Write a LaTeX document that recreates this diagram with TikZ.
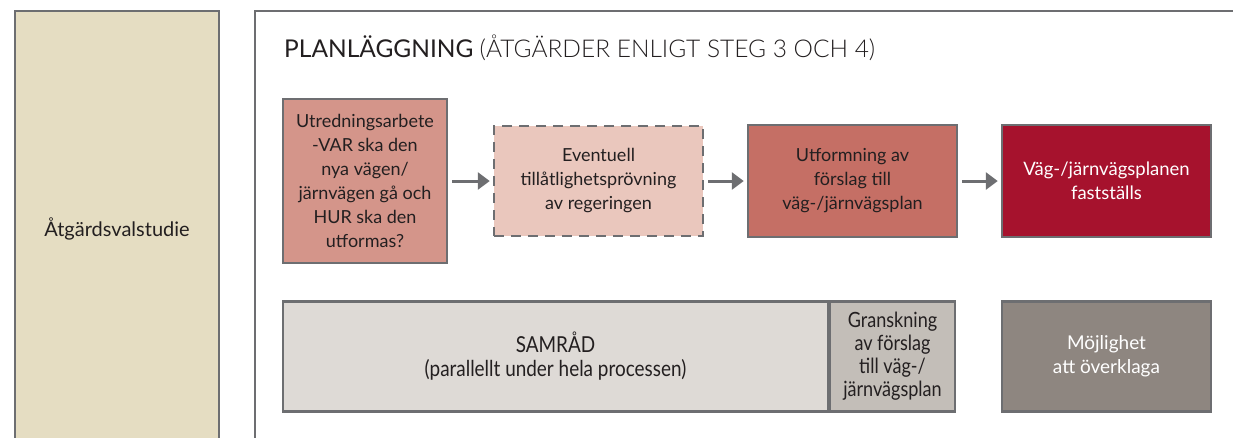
\documentclass[tikz,border=0pt]{standalone}
\usepackage{fontspec}
\setmainfont{Lato}
\newfontfamily\narrowfont[FakeStretch=0.86]{Lato}
\newfontfamily\lightfont{Lato Light}
\usetikzlibrary{arrows.meta}

\definecolor{edgegray}{HTML}{6D6E71}
\definecolor{textdark}{HTML}{231F20}
\definecolor{beige}{HTML}{E5DDC2}
\definecolor{rose}{HTML}{D4958A}
\definecolor{palerose}{HTML}{EAC7BD}
\definecolor{brick}{HTML}{C56F65}
\definecolor{wine}{HTML}{A6122D}
\definecolor{lightstone}{HTML}{DEDAD6}
\definecolor{stone}{HTML}{C3BEB8}
\definecolor{taupe}{HTML}{8E8680}

\begin{document}
\begin{tikzpicture}[x=1pt, y=-1pt,
        planbox/.style={draw=edgegray, line width=2.5pt, align=center, inner sep=0pt,
                text=textdark, font=\fontsize{18}{24}\selectfont},
        optbox/.style={planbox, dash pattern=on 10pt off 7pt},
        lowbox/.style={planbox, minimum height=110pt},
        flowarrow/.style={edgegray, line width=3pt, -{Triangle[length=12pt,width=17pt]},
                shorten <=4pt, shorten >=3pt}]
        \useasboundingbox (0,0) rectangle (1233,437);

        % Left column
        \fill [beige] (15,445) -- (15,11) -- (219,11) -- (219,445);
        \draw [edgegray, line width=2.5pt] (15,445) -- (15,11) -- (219,11) -- (219,445);
        \node [text=textdark, font=\fontsize{20}{24}\selectfont] (avs) at (117,229) {Åtgärdsvalstudie};

        % Planning frame and title
        \draw [edgegray, line width=2pt] (255,445) -- (255,11) -- (1240,11);
        \node [anchor=base west, inner sep=0pt, text=textdark, font=\fontsize{24.5}{28}\selectfont]
                (title) at (284,57) {PLANLÄGGNING {\lightfont(ÅTGÄRDER ENLIGT STEG 3 OCH 4)}};

        % Steps
        \node [planbox, fill=rose, minimum width=164pt, minimum height=164pt] (utr) at (365,181)
                {Utredningsarbete\\-VAR ska den\\nya vägen/\\järnvägen gå och\\HUR ska den\\utformas?};
        \node [optbox, fill=palerose, minimum width=209pt, minimum height=110pt] (till) at (598.5,181)
                {Eventuell\\tillåtlighetsprövning\\av regeringen};
        \node [planbox, fill=brick, minimum width=209pt, minimum height=112pt] (utf) at (852.5,181)
                {Utformning av\\förslag till\\väg-/järnvägsplan};
        \node [planbox, fill=wine, text=white, minimum width=209pt, minimum height=112pt,
                font=\fontsize{18.5}{24}\selectfont] (fast) at (1106.5,181)
                {Väg-/järnvägsplanen\\fastställs};

        \draw [flowarrow] (utr) -- (till);
        \draw [flowarrow] (till) -- (utf);
        \draw [flowarrow] (utf) -- (fast);

        % Lower row
        \node [lowbox, fill=lightstone, minimum width=545pt, font=\narrowfont\fontsize{22}{24}\selectfont]
                (samr) at (555.5,356.5) {SAMRÅD\\(parallellt under hela processen)};
        \node [lowbox, fill=stone, minimum width=125pt, font=\narrowfont\fontsize{21}{23}\selectfont]
                (gran) at (892.5,356.5) {Granskning\\av förslag\\till väg-/\\järnvägsplan};
        \node [lowbox, fill=taupe, text=white, minimum width=209pt, font=\fontsize{19}{24}\selectfont]
                (overk) at (1106.5,356.5) {Möjlighet\\att överklaga};

\end{tikzpicture}
\end{document}
